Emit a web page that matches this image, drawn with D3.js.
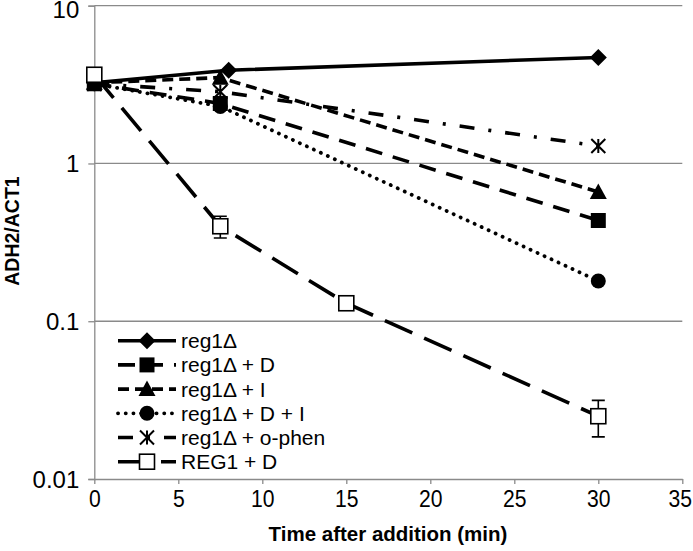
<!DOCTYPE html>
<html><head><meta charset="utf-8">
<script src="https://cdn.jsdelivr.net/npm/d3@7"></script>
<style>body{margin:0;background:#fff}svg{display:block}text{font-family:"Liberation Sans",Arial,sans-serif}</style>
</head><body><svg id="c" width="693" height="551"></svg>
<script>
const seriesNames = ["reg1\u0394", "reg1\u0394 + D", "reg1\u0394 + I", "reg1\u0394 + D + I", "reg1\u0394 + o-phen", "REG1 + D"];
const xReg1 = [0, 8, 30];
const yReg1 = [3.25, 3.9, 4.7];
const xReg1D = [0, 7.5, 30];
const yReg1D = [3.2, 2.4, 0.435];
const xReg1I = [0, 7.5, 30];
const yReg1I = [3.25, 3.5, 0.66];
const xReg1DI = [0, 7.5, 30];
const yReg1DI = [3.2, 2.3, 0.18];
const xOphen = [0, 7.5, 30];
const yOphen = [3.2, 2.85, 1.29];
const xREG1D = [0, 7.5, 15, 30];
const yREG1D = [3.65, 0.40, 0.13, 0.025];
const eREG1D = [0, 0.063, 0, 0.0065];
const xTicks = [0, 5, 10, 15, 20, 25, 30, 35];
const yTicks = [0.01, 0.1, 1, 10];
const yTickLabels = ["0.01", "0.1", "1", "10"];

const svg = d3.select("#c");
const L = 94.3, R = 682.3, T = 5.7, B = 479;
const x = d3.scaleLinear().domain([0, 35]).range([L, R]);
const y = d3.scaleLog().domain([0.01, 10]).range([B, T]);
const grey = "#8a8a8a";

// gridlines
svg.append("g").selectAll("line").data(yTicks.slice(1)).join("line")
  .attr("x1", L).attr("x2", R).attr("y1", d => y(d)).attr("y2", d => y(d))
  .attr("stroke", grey).attr("stroke-width", 1.3);

// y axis
const ya = svg.append("g").attr("transform", `translate(${L},0)`)
  .call(d3.axisLeft(y).tickValues(yTicks).tickFormat((d, i) => yTickLabels[i]).tickSize(6).tickPadding(9));
ya.select(".domain").attr("stroke", grey).attr("stroke-width", 1.3);
ya.selectAll(".tick line").attr("stroke", grey).attr("stroke-width", 1.3);
ya.selectAll(".tick text").attr("font-size", 24).attr("fill", "#000").attr("font-family", "Liberation Sans, Arial, sans-serif")
  .attr("dy", (d) => d === 10 ? "0.48em" : "0.35em");

// x axis
const xa = svg.append("g").attr("transform", `translate(0,${B})`)
  .call(d3.axisBottom(x).tickValues(xTicks).tickSize(5).tickPadding(6).tickSizeOuter(0));
xa.select(".domain").attr("stroke", grey).attr("stroke-width", 1.3);
xa.selectAll(".tick line").attr("stroke", grey).attr("stroke-width", 1.3);
xa.selectAll(".tick text").attr("font-size", 24).attr("fill", "#000").attr("font-family", "Liberation Sans, Arial, sans-serif")
  .attr("transform", "scale(0.88,1)")
  .attr("dx", d => d === 35 ? "-0.12em" : null);

// titles
svg.append("text").attr("x", 388).attr("y", 541).attr("text-anchor", "middle")
  .attr("font-size", 20.5).attr("font-weight", "bold").text("Time after addition (min)");
svg.append("text").attr("transform", "translate(19,231) rotate(-90)").attr("text-anchor", "middle")
  .attr("font-size", 19.5).attr("font-weight", "bold").text("ADH2/ACT1");

const styles = [
  {dash: null, w: 3.6, marker: "diamond"},
  {dash: "17 11", w: 3.6, marker: "square"},
  {dash: "11 6", w: 3.6, marker: "triangle"},
  {dash: "0.1 7.6", w: 3.8, cap: "round", marker: "circle"},
  {dash: "15 14 3 14", w: 3.6, marker: "star"},
  {dash: "30 13", w: 3.6, marker: "open"}
];
const data = [
  [xReg1, yReg1], [xReg1D, yReg1D], [xReg1I, yReg1I], [xReg1DI, yReg1DI], [xOphen, yOphen], [xREG1D, yREG1D]
];

function drawMarker(g, type, cx, cy) {
  if (type === "diamond") {
    g.append("path").attr("d", `M${cx},${cy-8.5}L${cx+8.5},${cy}L${cx},${cy+8.5}L${cx-8.5},${cy}Z`).attr("fill", "#000");
  } else if (type === "square") {
    g.append("rect").attr("x", cx-7.5).attr("y", cy-7.5).attr("width", 15).attr("height", 15).attr("fill", "#000");
  } else if (type === "triangle") {
    g.append("path").attr("d", `M${cx},${cy-8.5}L${cx+8.5},${cy+7}L${cx-8.5},${cy+7}Z`).attr("fill", "#000");
  } else if (type === "circle") {
    g.append("circle").attr("cx", cx).attr("cy", cy).attr("r", 7.5).attr("fill", "#000");
  } else if (type === "star") {
    const s = 7;
    g.append("path").attr("d", `M${cx},${cy-s}L${cx},${cy+s}M${cx-s},${cy-s}L${cx+s},${cy+s}M${cx-s},${cy+s}L${cx+s},${cy-s}`)
      .attr("stroke", "#000").attr("stroke-width", 2).attr("fill", "none");
  } else if (type === "open") {
    g.append("rect").attr("x", cx-7.5).attr("y", cy-7.5).attr("width", 15).attr("height", 15)
      .attr("fill", "#fff").attr("stroke", "#000").attr("stroke-width", 1.6);
  }
}

const line = d3.line().x(d => x(d[0])).y(d => y(d[1]));
data.forEach((s, i) => {
  const pts = s[0].map((v, j) => [v, s[1][j]]);
  const st = styles[i];
  const g = svg.append("g");
  g.append("path").attr("d", line(pts)).attr("fill", "none").attr("stroke", "#000")
    .attr("stroke-width", st.w).attr("stroke-dasharray", st.dash)
    .attr("stroke-linecap", st.cap || "butt");
  if (i === 5) {
    pts.forEach((p, j) => {
      const e = eREG1D[j];
      if (e > 0) {
        const cx = x(p[0]);
        g.append("path").attr("d", `M${cx},${y(p[1]+e)}L${cx},${y(p[1]-e)}M${cx-6.5},${y(p[1]+e)}L${cx+6.5},${y(p[1]+e)}M${cx-6.5},${y(p[1]-e)}L${cx+6.5},${y(p[1]-e)}`)
          .attr("stroke", "#000").attr("stroke-width", 1.6);
      }
    });
  }
  pts.forEach(p => drawMarker(g, st.marker, x(p[0]), y(p[1])));
});

// legend
const lg = svg.append("g");
seriesNames.forEach((name, i) => {
  const ly = 340.7 + i * 24.2;
  const st = styles[i];
  lg.append("line").attr("x1", 118).attr("x2", 176).attr("y1", ly).attr("y2", ly)
    .attr("stroke", "#000").attr("stroke-width", st.w).attr("stroke-dasharray", st.dash)
    .attr("stroke-linecap", st.cap || "butt");
  drawMarker(lg, st.marker, 147, ly);
  lg.append("text").attr("x", 181).attr("y", ly).attr("dy", "0.36em").attr("font-size", 21).text(name);
});
</script></body></html>
